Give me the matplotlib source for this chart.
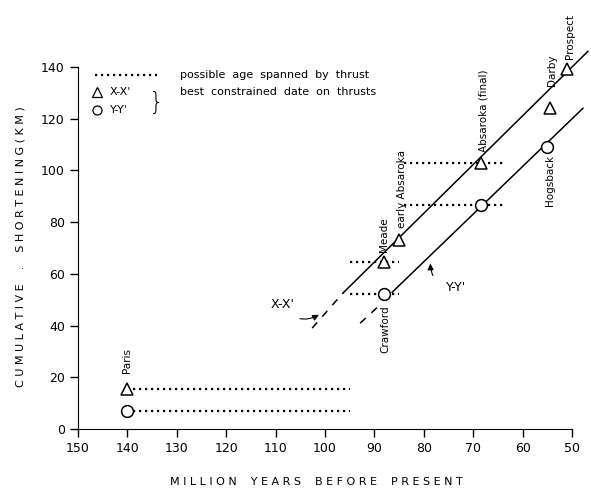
import numpy as np
import matplotlib.pyplot as plt

# Thrust dates, X-X' section (triangles)
names_x = ["Paris", "Meade", "early Absaroka", "Absaroka (final)", "Darby", "Prospect"]
age_x = [140, 88, 85, 68.5, 54.5, 51]
short_x = [15.5, 64.5, 73, 103, 124, 139]

# Thrust dates, Y-Y' section (circles)
names_y = ["Paris", "Crawford", "Absaroka", "Hogsback"]
age_y = [140, 88, 68.5, 55]
short_y = [7, 52, 86.5, 109]

# possible age spanned by thrust (dotted bars)
span_old = [140, 140, 95, 95, 84, 84]
span_young = [95, 95, 85, 85, 63.5, 63.5]
span_short = [15.5, 7, 64.5, 52, 103, 86.5]

# trend lines (solid part and dashed extension)
xx_age = [96.4, 46.8]
xx_short = [52.5, 146]
xx_dash_age = [102.6, 96.4]
xx_dash_short = [39, 52.5]
yy_age = [86.4, 47.8]
yy_short = [52.9, 124]
yy_dash_age = [92.9, 88.7]
yy_dash_short = [40.9, 48.3]

fs = 7.5
dot = (0, (1, 1.7))

fig = plt.figure(figsize=(5.91, 4.94), dpi=100)
ax = fig.add_axes([0.132, 0.1316, 0.836, 0.733])

for a0, a1, s in zip(span_old, span_young, span_short):
    ax.plot([a0, a1], [s, s], color="black", lw=1.6, linestyle=dot, zorder=2)

ax.plot(xx_age, xx_short, color="black", lw=1.1, clip_on=False, zorder=1)
ax.plot(xx_dash_age, xx_dash_short, color="black", lw=1.1, linestyle=(0, (5, 5)), zorder=1)
ax.plot(yy_age, yy_short, color="black", lw=1.1, clip_on=False, zorder=1)
ax.plot(yy_dash_age, yy_dash_short, color="black", lw=1.1, linestyle=(0, (5, 5)), zorder=1)

ax.plot(age_x, short_x, "^", ms=8.5, mfc="white", mec="black", mew=1.1, ls="none", zorder=3, clip_on=False)
ax.plot(age_y, short_y, "o", ms=8.5, mfc="white", mec="black", mew=1.1, ls="none", zorder=3, clip_on=False)

# thrust names, rotated
lab_x = [(140, 21.6), (88.1, 68.3), (84.4, 77.6), (68, 107), (54, 132.8), (50.4, 143.2)]
for name, (a, s) in zip(names_x, lab_x):
    ax.text(a, s, name, rotation=90, ha="center", va="bottom", fontsize=fs)
ax.text(87.7, 47.9, "Crawford", rotation=90, ha="center", va="top", fontsize=fs)
ax.text(54.5, 105.8, "Hogsback", rotation=90, ha="center", va="top", fontsize=fs)

# section labels with curly arrows
ax.annotate("X-X'", xy=(101, 44.4), xytext=(108.5, 48.3), fontsize=9,
            ha="center", va="center",
            arrowprops=dict(arrowstyle="-|>", color="black", lw=0.8,
                            connectionstyle="arc3,rad=0.5", shrinkA=8, shrinkB=1))
ax.annotate("Y-Y'", xy=(78.7, 64.5), xytext=(73.5, 54.8), fontsize=9,
            ha="center", va="center",
            arrowprops=dict(arrowstyle="-|>", color="black", lw=0.8,
                            connectionstyle="arc3,rad=-0.5", shrinkA=10, shrinkB=1))

# legend drawn by hand
ax.plot([146.6, 134], [136.7, 136.7], color="black", lw=1.6, linestyle=dot)
ax.text(129.4, 136.7, "possible  age  spanned  by  thrust", fontsize=8, va="center")
ax.plot([146.2], [130.1], "^", ms=6.5, mfc="white", mec="black", mew=0.9)
ax.text(143.5, 130.1, "X-X'", fontsize=8, va="center")
ax.plot([146.2], [123.2], "o", ms=6.5, mfc="white", mec="black", mew=0.9)
ax.text(143.5, 123.2, "Y-Y'", fontsize=8, va="center")
ax.text(134.2, 126.2, "}", fontsize=17, va="center", ha="center", fontweight="light")
ax.text(129.4, 130.1, "best  constrained  date  on  thrusts", fontsize=8, va="center")

ax.set_xlim(150, 50)
ax.set_ylim(0, 140)
ax.set_xticks(np.arange(150, 49, -10))
ax.set_yticks(np.arange(0, 141, 20))
ax.spines["top"].set_visible(False)
ax.spines["right"].set_visible(False)
ax.tick_params(direction="out", length=6, width=1, labelsize=9)

fig.text(0.535, 0.025, "M I L L I O N    Y E A R S    B E F O R E    P R E S E N T",
         ha="center", va="center", fontsize=8)
fig.text(0.034, 0.5, "C U M U L A T I V E    .    S H O R T E N I N G ( K M )",
         rotation=90, ha="center", va="center", fontsize=8)

fig.savefig("out.png", dpi=100)
